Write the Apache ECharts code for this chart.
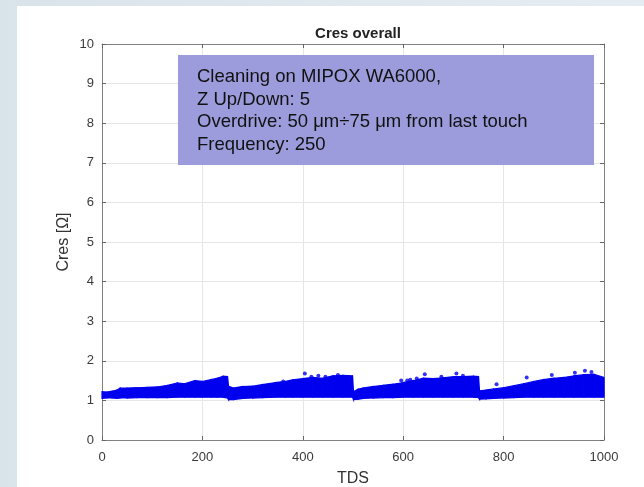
<!DOCTYPE html>
<html>
<head>
<meta charset="utf-8">
<script src="https://cdn.jsdelivr.net/npm/echarts@6/dist/echarts.min.js"></script>
<style>
  html, body { margin: 0; padding: 0; width: 644px; height: 487px; overflow: hidden; background: linear-gradient(90deg, #d9e4ea 0%, #e6edf2 100%); }
  #panel { position: absolute; left: 17px; top: 6px; right: 0; bottom: 0; background: #ffffff; }
  #chart { position: absolute; left: 0; top: 0; width: 644px; height: 487px; }
</style>
</head>
<body>
<div id="panel"></div>
<div id="chart"></div>
<script>
// Envelope of the dense Cres point cloud (TDS, upper edge, lower edge)
const tds = [0, 10, 20, 30, 36, 50, 70, 90, 110, 130, 150, 165, 185, 200, 218, 230, 241, 250,
  252, 262, 280, 300, 320, 345, 365, 380, 400, 420, 440, 460, 480, 499,
  501, 510, 520, 540, 560, 580, 600, 620, 640, 660, 680, 700, 720, 740, 750,
  752, 765, 780, 800, 820, 840, 860, 880, 900, 920, 940, 960, 980, 1000];
const cresUpper = [1.22, 1.21, 1.23, 1.26, 1.31, 1.31, 1.32, 1.33, 1.34, 1.38, 1.44, 1.42, 1.50, 1.48, 1.53, 1.56, 1.61, 1.60,
  1.36, 1.31, 1.35, 1.36, 1.40, 1.45, 1.48, 1.52, 1.55, 1.58, 1.56, 1.62, 1.63, 1.62,
  1.22, 1.28, 1.31, 1.35, 1.38, 1.41, 1.45, 1.50, 1.56, 1.55, 1.57, 1.60, 1.60, 1.61, 1.60,
  1.24, 1.26, 1.29, 1.32, 1.37, 1.42, 1.48, 1.53, 1.56, 1.58, 1.62, 1.65, 1.66, 1.58];
const cresLower = [1.05, 1.06, 1.06, 1.05, 1.06, 1.06, 1.07, 1.07, 1.07, 1.07, 1.08, 1.08, 1.08, 1.08, 1.08, 1.08, 1.08, 1.06,
  1.02, 1.02, 1.05, 1.06, 1.07, 1.08, 1.08, 1.08, 1.08, 1.08, 1.08, 1.08, 1.08, 1.08,
  1.02, 1.03, 1.05, 1.06, 1.07, 1.07, 1.08, 1.08, 1.08, 1.08, 1.08, 1.08, 1.08, 1.08, 1.07,
  1.03, 1.04, 1.05, 1.06, 1.07, 1.08, 1.08, 1.08, 1.08, 1.08, 1.08, 1.08, 1.08, 1.08];
// Isolated points sticking out above the cloud
const outlierTds = [361, 404, 417, 431, 445, 470, 596, 608, 614, 627, 643, 676, 706, 719, 786, 846, 896, 942, 962, 975];
const outlierCres = [1.48, 1.68, 1.60, 1.62, 1.60, 1.64, 1.50, 1.50, 1.52, 1.55, 1.66, 1.60, 1.68, 1.62, 1.41, 1.58, 1.64, 1.70, 1.75, 1.72];

const xTicks = [0, 200, 400, 600, 800, 1000];
const yTicks = [0, 1, 2, 3, 4, 5, 6, 7, 8, 9, 10];
const titleText = 'Cres overall';
const xName = 'TDS';
const yName = 'Cres [Ω]';
const noteLines = ['Cleaning on MIPOX WA6000,', 'Z Up/Down: 5', 'Overdrive: 50 μm÷75 μm from last touch', 'Frequency: 250'];

const blue = '#0000ee';
// one quad per pair of consecutive envelope samples
const bandData = [];
for (let i = 0; i < tds.length - 1; i++) {
  bandData.push([tds[i], cresLower[i], cresUpper[i], tds[i + 1], cresLower[i + 1], cresUpper[i + 1]]);
}
const outlierData = outlierTds.map((t, i) => [t, outlierCres[i]]);

const font = 'Liberation Sans, Arial, Helvetica, sans-serif';
const axisCommon = {
  axisLine: { show: true, onZero: false, lineStyle: { color: '#808080', width: 1 } },
  axisTick: { show: true, inside: true, length: 4, lineStyle: { color: '#666' } },
};

const chart = echarts.init(document.getElementById('chart'), null, { renderer: 'canvas' });
chart.setOption({
  animation: false,
  backgroundColor: 'transparent',
  title: {
    text: titleText, left: 353, top: 21, textAlign: 'center',
    textStyle: { fontFamily: font, fontSize: 15, fontWeight: 'bold', color: '#222' }
  },
  grid: { left: 102, right: 40, top: 44, bottom: 47, show: false, containLabel: false, outerBoundsMode: 'none' },
  xAxis: [
    Object.assign({
      type: 'value', min: xTicks[0], max: xTicks[xTicks.length - 1], interval: 200,
      name: xName, nameLocation: 'middle', nameGap: 31, nameMoveOverlap: false,
      nameTextStyle: { fontFamily: font, fontSize: 16, color: '#333' },
      axisLabel: { fontFamily: font, fontSize: 13, color: '#3a3a3a', margin: 11, formatter: v => String(v) },
      splitLine: { show: true, lineStyle: { color: '#e6e6e6', width: 1 } }
    }, axisCommon),
    Object.assign({
      type: 'value', position: 'top', min: 0, max: 1000, interval: 200,
      axisLabel: { show: false }, splitLine: { show: false }
    }, axisCommon)
  ],
  yAxis: [
    Object.assign({
      type: 'value', min: yTicks[0], max: yTicks[yTicks.length - 1], interval: 1,
      name: yName, nameLocation: 'middle', nameGap: 30, nameRotate: 90, nameMoveOverlap: false,
      nameTextStyle: { fontFamily: font, fontSize: 16, color: '#333' },
      axisLabel: { fontFamily: font, fontSize: 13, color: '#3a3a3a', margin: 8 },
      splitLine: { show: true, lineStyle: { color: '#e6e6e6', width: 1 } }
    }, axisCommon),
    Object.assign({
      type: 'value', position: 'right', min: 0, max: 10, interval: 1,
      axisLabel: { show: false }, splitLine: { show: false }
    }, axisCommon)
  ],
  series: [
    {
      type: 'custom', name: 'band', data: bandData, z: 3,
      encode: { x: [0, 3], y: [1, 2, 4, 5] },
      renderItem: function (params, api) {
        const p1 = api.coord([api.value(0), api.value(1)]);
        const p2 = api.coord([api.value(0), api.value(2)]);
        const p3 = api.coord([api.value(3), api.value(5)]);
        const p4 = api.coord([api.value(3), api.value(4)]);
        return {
          type: 'polygon',
          shape: { points: [p1, p2, p3, p4] },
          style: { fill: blue, stroke: blue, lineWidth: 1.2 }
        };
      }
    },
    {
      type: 'scatter', name: 'outliers', data: outlierData, symbol: 'circle', symbolSize: 4,
      itemStyle: { color: blue }, z: 4
    }
  ],
  graphic: [
    {
      type: 'rect', left: 178, top: 55, z: 10,
      shape: { width: 416, height: 110 },
      style: { fill: '#9c9cdc' }
    },
    {
      type: 'text', left: 197, top: 66, z: 11,
      style: {
        text: noteLines.join('\n'), fill: '#111',
        font: '18.5px ' + font, lineHeight: 22.5
      }
    }
  ]
});
</script>
</body>
</html>
